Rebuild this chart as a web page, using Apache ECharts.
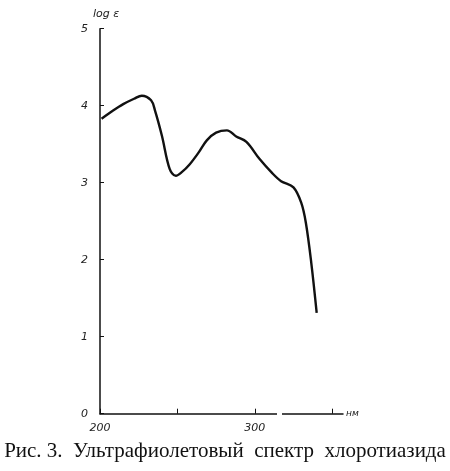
<!DOCTYPE html>
<html><head><meta charset="utf-8">
<script src="https://cdn.jsdelivr.net/npm/echarts@6/dist/echarts.min.js"></script>
<style>html,body{margin:0;padding:0;background:#fff}#c{width:450px;height:471px}</style>
</head><body><div id="c"></div>
<script>
const wavelength = [201, 208, 215, 222, 227, 233, 235.5, 240, 245, 249, 253, 258, 264, 269, 275, 282, 288, 294.6, 303, 311, 317, 325, 330, 333, 336.5, 340];
const logEps = [3.83, 3.93, 4.02, 4.09, 4.13, 4.07, 3.94, 3.61, 3.18, 3.09, 3.14, 3.24, 3.40, 3.55, 3.65, 3.68, 3.60, 3.53, 3.31, 3.13, 3.02, 2.94, 2.74, 2.48, 1.96, 1.31];
const xLabels = [200, 300];
const yLabels = [0, 1, 2, 3, 4, 5];
const caption = 'Рис. 3.  Ультрафиолетовый  спектр  хлоротиазида';

const chart = echarts.init(document.getElementById('c'));
const tickFont = {fontFamily: 'DejaVu Sans', fontStyle: 'italic', fontSize: 11, color: '#222'};
chart.setOption({
  animation: false,
  backgroundColor: '#fff',
  grid: {left: 100, top: 28.7, right: 450 - 343, bottom: 57.3, containLabel: false},
  xAxis: {
    type: 'value', min: 200, max: 357, interval: 50,
    axisLine: {lineStyle: {color: '#111', width: 1.5}},
    axisTick: {inside: true, length: 5, lineStyle: {color: '#111'},
      interval: function (i, v) { return v === 250 || v === 300 || v === 350; }},
    splitLine: {show: false},
    axisLabel: Object.assign({margin: 9, showMaxLabel: false,
      formatter: v => xLabels.includes(v) ? String(v) : ''}, tickFont),
    name: 'нм', nameLocation: 'end', nameGap: 3,
    nameTextStyle: {fontFamily: 'DejaVu Sans', fontStyle: 'italic', fontSize: 9, color: '#222'}
  },
  yAxis: {
    type: 'value', min: 0, max: 5, interval: 1,
    axisLine: {lineStyle: {color: '#111', width: 1.5}},
    axisTick: {inside: true, length: 4, lineStyle: {color: '#111'}},
    splitLine: {show: false},
    axisLabel: Object.assign({margin: 12, formatter: v => yLabels.includes(v) ? String(v) : ''}, tickFont),
    name: 'log ε', nameLocation: 'end', nameGap: 9,
    nameTextStyle: {fontFamily: 'DejaVu Sans', fontStyle: 'italic', fontSize: 11, color: '#222', align: 'center', padding: [0, 0, 0, 12]}
  },
  series: [{
    type: 'line', smooth: 0.35, showSymbol: false,
    data: wavelength.map((w, i) => [w, logEps[i]]),
    lineStyle: {color: '#111', width: 2.4}
  }],
  graphic: [
    {type: 'rect', shape: {x: 277, y: 411, width: 5, height: 6}, style: {fill: '#fff'}, z: 100},
    {type: 'text', left: 'center', top: 441,
     style: {text: caption, font: '21px "Liberation Serif"', fill: '#111'}}
  ]
});
</script></body></html>
